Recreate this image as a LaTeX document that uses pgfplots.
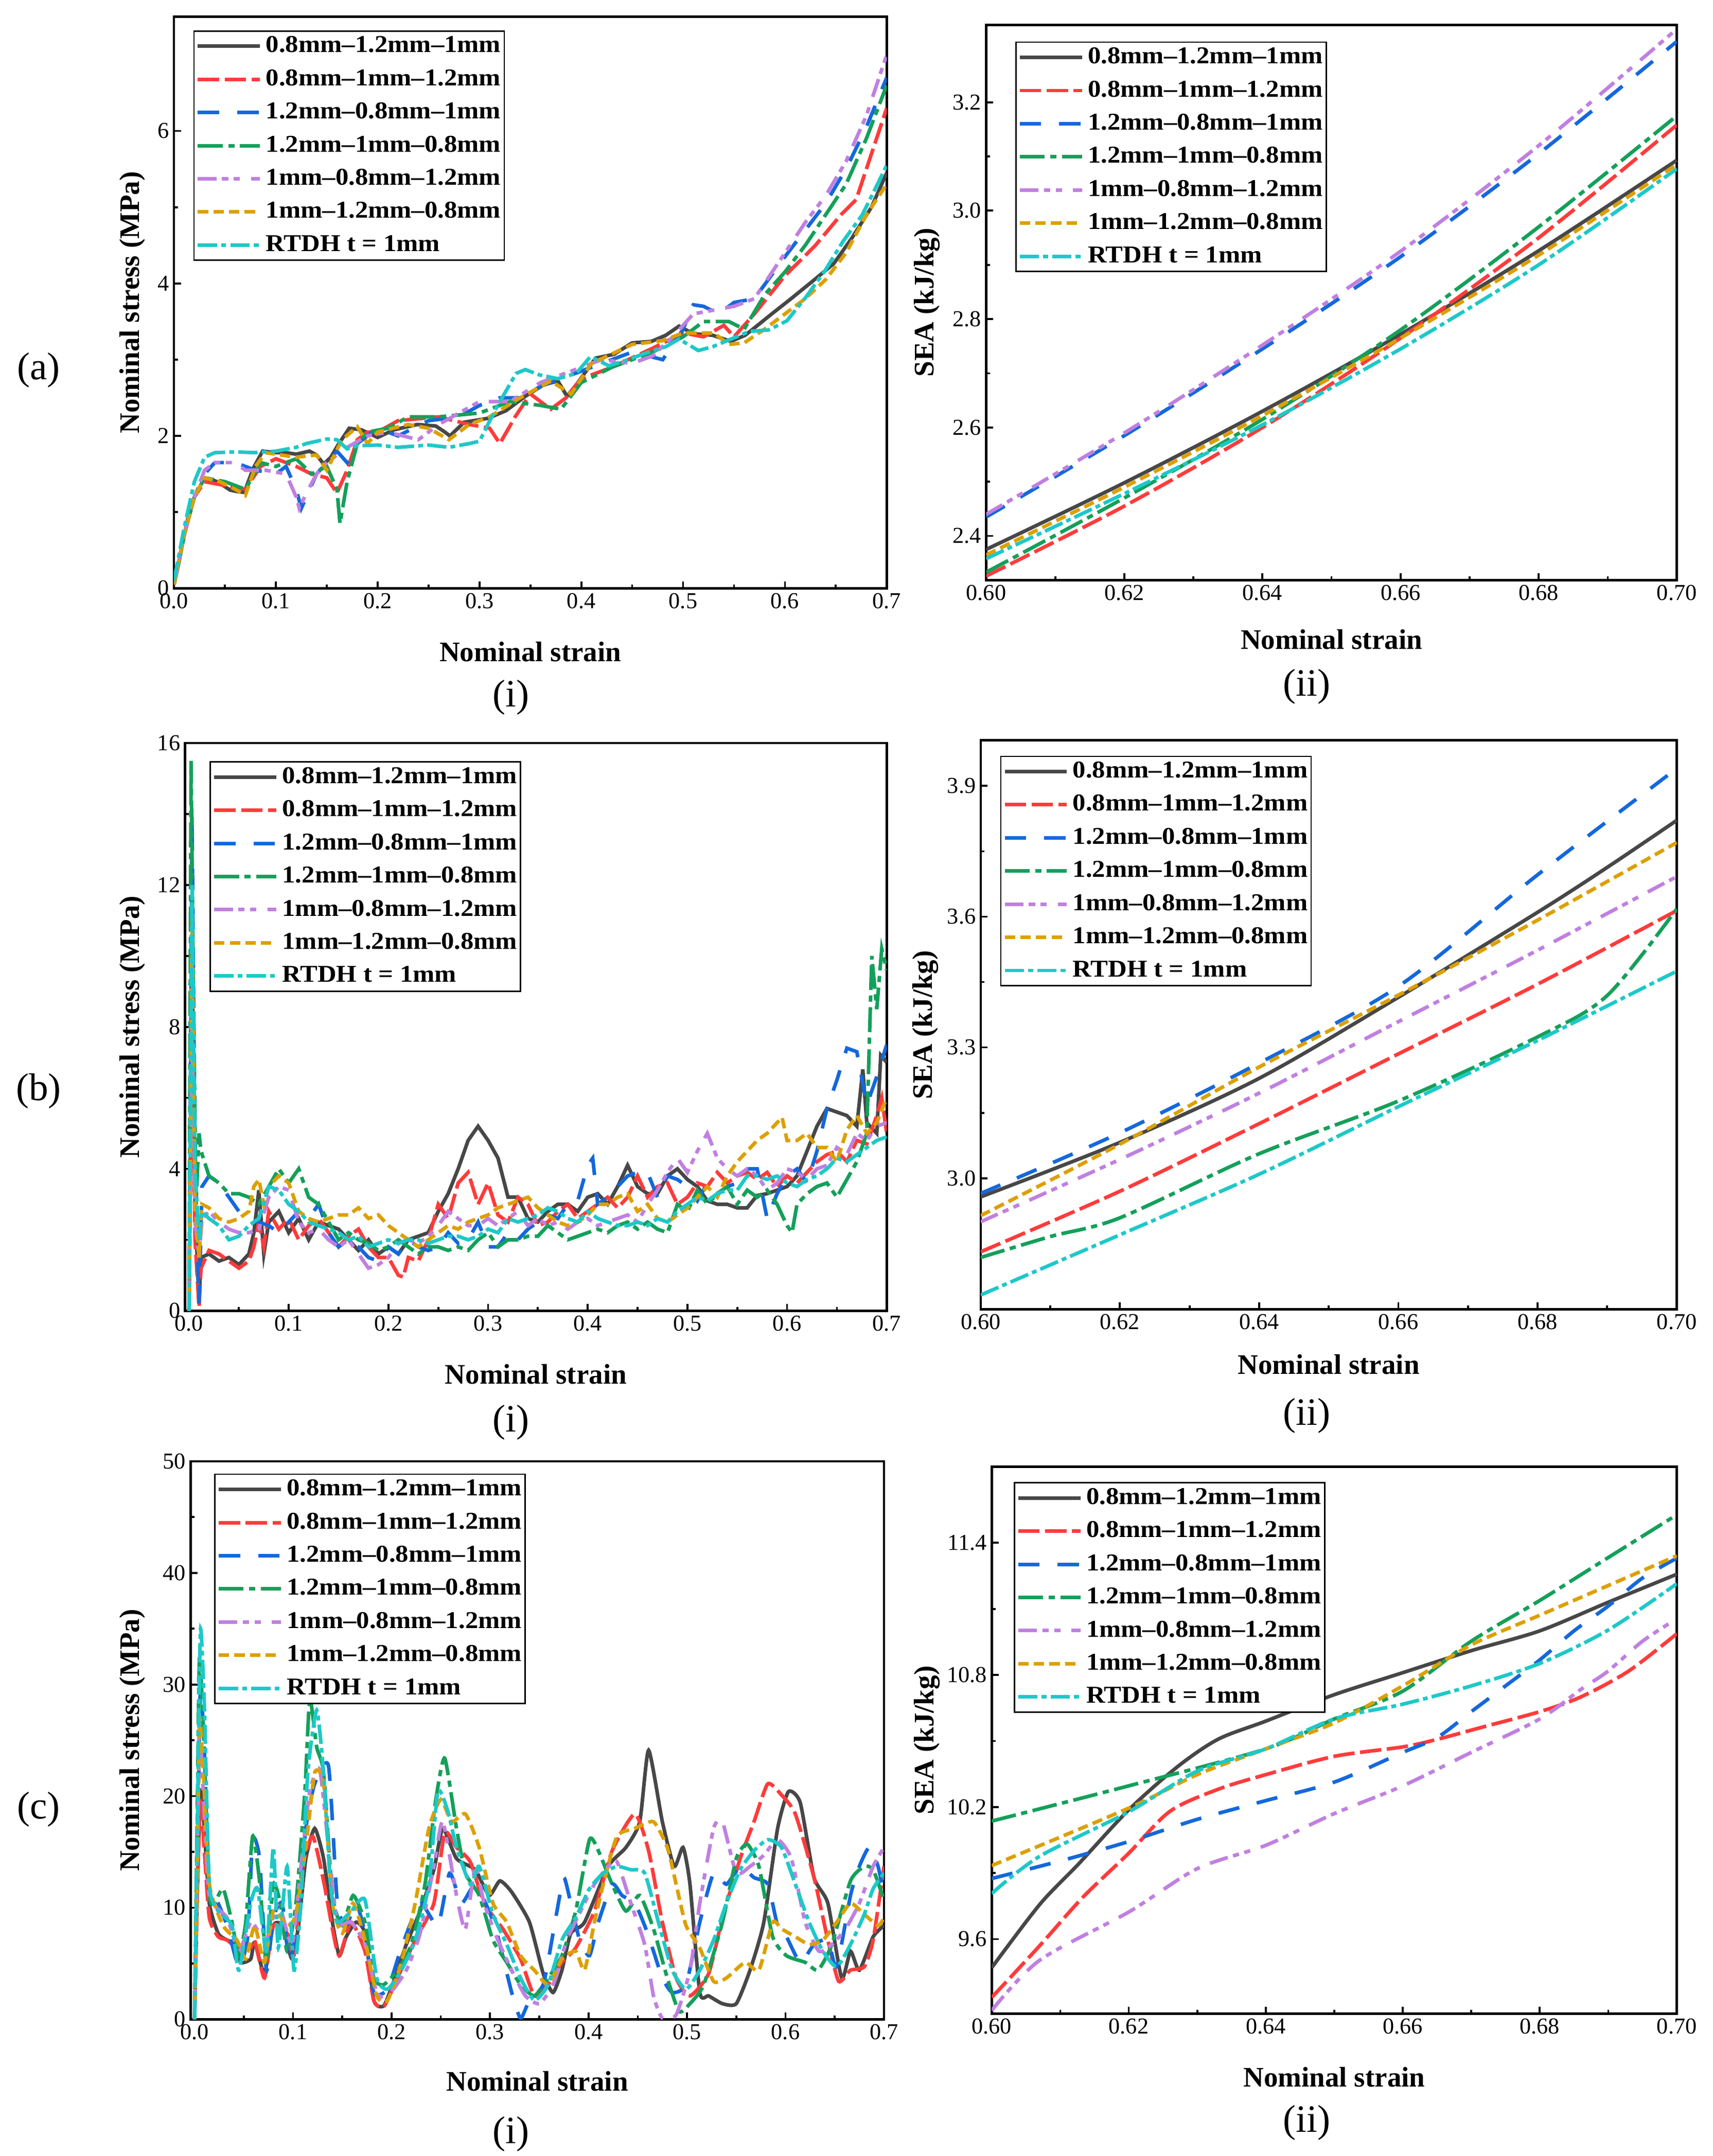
\documentclass[border=0pt]{standalone}
\usepackage{fontspec}
\setmainfont{Liberation Serif}
\newfontfamily\legfont{Liberation Serif}[Ligatures=TeX, FakeStretch=1.08]
\usepackage{pgfplots}
\pgfplotsset{compat=1.18}

\definecolor{cK}{HTML}{474747}
\definecolor{cR}{HTML}{FF3B3B}
\definecolor{cB}{HTML}{1468DC}
\definecolor{cG}{HTML}{14A05A}
\definecolor{cP}{HTML}{C080E0}
\definecolor{cO}{HTML}{DCA000}
\definecolor{cC}{HTML}{1EC8C8}

\tikzset{
  sK/.style={cK, solid, line width=2.6pt},
  sR/.style={cR, line width=2.6pt, dash pattern=on 15.5pt off 4pt},
  sB/.style={cB, line width=2.6pt, dash pattern=on 15.5pt off 13pt},
  sG/.style={cG, line width=2.6pt, dash pattern=on 18pt off 4pt on 4.5pt off 4pt},
  sP/.style={cP, line width=2.6pt, dash pattern=on 13.5pt off 4pt on 4.5pt off 4pt on 4.5pt off 8pt},
  sO/.style={cO, line width=2.6pt, dash pattern=on 7.5pt off 3.8pt},
  sC/.style={cC, line width=2.6pt, dash pattern=on 14pt off 3pt on 3.5pt off 3pt},
}

\pgfplotsset{
  panel/.style={
    scale only axis, anchor=south west,
    axis line style={line width=1.7pt},
    tick align=inside, tick pos=left,
    minor tick num=1,
    major tick length=5pt, minor tick length=2.8pt,
    every tick/.append style={line width=1.4pt, black},
    tick label style={font=\fontsize{16.5}{19}\selectfont},
    /pgf/number format/assume math mode=true,
    every axis x label/.style={anchor=center, font=\fontsize{20.5}{24}\selectfont\bfseries},
    every axis y label/.style={rotate=90, anchor=center, font=\fontsize{20.5}{24}\selectfont\bfseries},
    legend cell align=left,
    legend image code/.code={\draw[##1] (0pt,0pt) -- (45pt,0pt);},
    legend style={anchor=north west, draw=black, line width=1pt,
      font=\fontsize{17.5}{20}\legfont\bfseries,
      inner xsep=1.5pt, inner ysep=3pt, row sep=8pt, column sep=2pt,
      nodes={inner xsep=1pt, inner ysep=0pt, text height=12.5pt, text depth=3.5pt}},
  },
}
\newcommand{\LEG}{\legend{0.8mm--1.2mm--1mm, 0.8mm--1mm--1.2mm, 1.2mm--0.8mm--1mm, 1.2mm--1mm--0.8mm, 1mm--0.8mm--1.2mm, 1mm--1.2mm--0.8mm, RTDH t = 1mm}}

\begin{document}
\begin{tikzpicture}
\useasboundingbox (0pt,0pt) rectangle (1240pt,-1561pt);

% ---------------- (a)(i)
\begin{axis}[panel, at={(126pt,-426pt)}, width=516pt, height=414pt,
  xmin=0, xmax=0.7, ymin=0, ymax=7.5,
  xtick={0,0.1,0.2,0.3,0.4,0.5,0.6,0.7}, ytick={0,2,4,6},
  xticklabel style={/pgf/number format/.cd, fixed, fixed zerofill, precision=1},
  xlabel={Nominal strain}, ylabel={Nominal stress (MPa)},
  xlabel style={at={([yshift=-46pt]axis description cs:0.5,0)}},
  ylabel style={at={([xshift=-30pt]axis description cs:0,0.5)}},
  legend style={at={(axis description cs:0.027,0.976)}}]
\addplot[sK] coordinates {(0,0.05)(0.005,0.35)(0.01,0.7)(0.015,1.0)(0.02,1.2)(0.03,1.45)(0.037,1.43)(0.045,1.38)(0.055,1.29)(0.062,1.27)(0.069,1.26)(0.078,1.58)(0.087,1.8)(0.1,1.78)(0.11,1.78)(0.12,1.76)(0.133,1.8)(0.14,1.75)(0.147,1.63)(0.154,1.72)(0.161,1.88)(0.172,2.1)(0.184,2.08)(0.2,1.98)(0.216,2.08)(0.239,2.15)(0.257,2.13)(0.265,2.06)(0.271,2.0)(0.285,2.18)(0.308,2.23)(0.326,2.33)(0.345,2.52)(0.363,2.67)(0.377,2.72)(0.386,2.52)(0.395,2.67)(0.414,3.02)(0.432,3.07)(0.45,3.22)(0.469,3.24)(0.483,3.32)(0.496,3.44)(0.51,3.34)(0.529,3.32)(0.547,3.24)(0.561,3.32)(0.575,3.47)(0.588,3.61)(0.607,3.81)(0.63,4.06)(0.648,4.26)(0.666,4.6)(0.685,5.0)(0.7,5.45)};
\addplot[sR] coordinates {(0,0.05)(0.01,0.7)(0.02,1.2)(0.03,1.4)(0.05,1.35)(0.07,1.3)(0.085,1.6)(0.1,1.7)(0.12,1.6)(0.135,1.5)(0.15,1.45)(0.16,1.25)(0.17,1.55)(0.18,1.95)(0.19,2.05)(0.2,2.05)(0.22,2.2)(0.26,2.25)(0.29,2.15)(0.31,2.1)(0.32,1.9)(0.335,2.25)(0.35,2.55)(0.37,2.35)(0.385,2.5)(0.4,2.75)(0.43,2.9)(0.47,3.15)(0.5,3.35)(0.52,3.3)(0.54,3.45)(0.55,3.3)(0.57,3.6)(0.6,4.1)(0.63,4.5)(0.655,4.9)(0.67,5.1)(0.685,5.7)(0.7,6.3)};
\addplot[sB] coordinates {(0,0.05)(0.01,0.7)(0.02,1.2)(0.03,1.5)(0.04,1.65)(0.06,1.65)(0.08,1.55)(0.1,1.5)(0.11,1.6)(0.12,1.3)(0.125,1.05)(0.13,1.2)(0.14,1.5)(0.16,1.8)(0.17,1.65)(0.18,1.9)(0.2,2.1)(0.22,2.0)(0.25,2.2)(0.28,2.25)(0.3,2.4)(0.32,2.5)(0.34,2.5)(0.36,2.65)(0.39,2.8)(0.42,2.95)(0.45,3.1)(0.48,3.0)(0.5,3.4)(0.51,3.72)(0.52,3.7)(0.535,3.6)(0.55,3.75)(0.57,3.8)(0.6,4.35)(0.62,4.7)(0.64,5.05)(0.66,5.5)(0.68,6.05)(0.7,6.7)};
\addplot[sG] coordinates {(0,0.05)(0.01,0.7)(0.02,1.2)(0.03,1.45)(0.05,1.4)(0.07,1.3)(0.085,1.65)(0.1,1.6)(0.12,1.7)(0.135,1.5)(0.15,1.6)(0.16,1.3)(0.163,0.85)(0.17,1.4)(0.18,1.9)(0.19,2.05)(0.21,2.1)(0.23,2.25)(0.26,2.25)(0.3,2.3)(0.33,2.45)(0.36,2.4)(0.38,2.35)(0.4,2.7)(0.43,2.9)(0.47,3.1)(0.5,3.3)(0.52,3.5)(0.545,3.5)(0.56,3.4)(0.58,3.85)(0.6,4.15)(0.62,4.5)(0.64,4.9)(0.66,5.3)(0.68,5.9)(0.7,6.6)};
\addplot[sP] coordinates {(0,0.05)(0.01,0.7)(0.02,1.2)(0.03,1.55)(0.04,1.65)(0.06,1.65)(0.07,1.55)(0.09,1.55)(0.11,1.5)(0.12,1.2)(0.123,1.05)(0.13,1.25)(0.14,1.5)(0.15,1.65)(0.17,1.85)(0.19,2.0)(0.21,2.05)(0.24,1.95)(0.26,2.15)(0.28,2.3)(0.3,2.45)(0.33,2.45)(0.36,2.7)(0.39,2.85)(0.42,3.0)(0.45,2.95)(0.47,3.05)(0.49,3.3)(0.51,3.6)(0.53,3.65)(0.55,3.7)(0.57,3.8)(0.6,4.4)(0.62,4.8)(0.64,5.15)(0.66,5.6)(0.68,6.2)(0.7,7.0)};
\addplot[sO] coordinates {(0,0.05)(0.01,0.7)(0.02,1.2)(0.03,1.45)(0.045,1.4)(0.06,1.3)(0.07,1.22)(0.08,1.6)(0.09,1.78)(0.12,1.72)(0.14,1.75)(0.15,1.55)(0.165,1.95)(0.18,2.12)(0.19,1.9)(0.2,2.05)(0.23,2.15)(0.25,2.1)(0.27,1.95)(0.29,2.15)(0.31,2.25)(0.34,2.5)(0.37,2.72)(0.39,2.55)(0.41,2.95)(0.45,3.2)(0.48,3.25)(0.5,3.35)(0.53,3.35)(0.545,3.2)(0.56,3.22)(0.58,3.4)(0.6,3.6)(0.62,3.8)(0.64,4.05)(0.66,4.4)(0.68,4.9)(0.7,5.3)};
\addplot[sC] coordinates {(0,0.1)(0.01,0.8)(0.02,1.4)(0.03,1.72)(0.04,1.78)(0.06,1.79)(0.08,1.78)(0.1,1.8)(0.12,1.85)(0.13,1.9)(0.15,1.96)(0.16,1.95)(0.17,1.83)(0.18,1.87)(0.2,1.88)(0.22,1.85)(0.25,1.88)(0.27,1.85)(0.29,1.9)(0.3,1.93)(0.317,2.38)(0.336,2.82)(0.345,2.87)(0.359,2.8)(0.377,2.75)(0.395,2.82)(0.409,3.04)(0.427,2.92)(0.446,3.0)(0.464,3.09)(0.483,3.17)(0.496,3.27)(0.515,3.12)(0.529,3.17)(0.547,3.27)(0.565,3.37)(0.584,3.39)(0.602,3.51)(0.62,3.81)(0.639,4.16)(0.657,4.55)(0.676,4.9)(0.689,5.25)(0.7,5.55)};
\LEG
\end{axis}

% ---------------- (a)(ii)
\begin{axis}[panel, at={(714pt,-420pt)}, width=500pt, height=402pt,
  xmin=0.6, xmax=0.7, ymin=2.3185, ymax=3.3427,
  xtick={0.6,0.62,0.64,0.66,0.68,0.7}, ytick={2.4,2.6,2.8,3.0,3.2},
  xticklabel style={/pgf/number format/.cd, fixed, fixed zerofill, precision=2},
  yticklabel style={/pgf/number format/.cd, fixed, fixed zerofill, precision=1},
  xlabel={Nominal strain}, ylabel={SEA (kJ/kg)},
  xlabel style={at={([yshift=-43pt]axis description cs:0.5,0)}},
  ylabel style={at={([xshift=-43pt]axis description cs:0,0.5)}},
  legend style={at={(axis description cs:0.042,0.970)}}]
\addplot[sK, smooth] coordinates {(0.6,2.375)(0.62,2.498)(0.64,2.63)(0.66,2.772)(0.68,2.926)(0.7,3.093)};
\addplot[sR, smooth] coordinates {(0.6,2.326)(0.62,2.455)(0.64,2.6)(0.66,2.765)(0.68,2.95)(0.7,3.158)};
\addplot[sB, smooth] coordinates {(0.6,2.435)(0.62,2.585)(0.64,2.745)(0.66,2.915)(0.68,3.105)(0.7,3.312)};
\addplot[sG, smooth] coordinates {(0.6,2.333)(0.62,2.47)(0.64,2.615)(0.66,2.78)(0.68,2.97)(0.7,3.175)};
\addplot[sP, smooth] coordinates {(0.6,2.44)(0.62,2.59)(0.64,2.752)(0.66,2.925)(0.68,3.12)(0.7,3.335)};
\addplot[sO, smooth] coordinates {(0.6,2.365)(0.62,2.49)(0.64,2.622)(0.66,2.765)(0.68,2.918)(0.7,3.085)};
\addplot[sC, smooth] coordinates {(0.6,2.358)(0.62,2.478)(0.64,2.605)(0.66,2.745)(0.68,2.9)(0.7,3.077)};
\LEG
\end{axis}

% ---------------- (b)(i)
\begin{axis}[panel, at={(134pt,-949pt)}, width=508pt, height=411pt,
  xmin=-0.004, xmax=0.7, ymin=0, ymax=16,
  xtick={0,0.1,0.2,0.3,0.4,0.5,0.6,0.7}, ytick={0,4,8,12,16},
  xticklabel style={/pgf/number format/.cd, fixed, fixed zerofill, precision=1},
  xlabel={Nominal strain}, ylabel={Nominal stress (MPa)},
  xlabel style={at={([yshift=-46pt]axis description cs:0.5,0)}},
  ylabel style={at={([xshift=-38pt]axis description cs:0,0.5)}},
  legend style={at={(axis description cs:0.035,0.968)}}]
\addplot[sK] coordinates {(0,0)(0.003,10)(0.006,3)(0.01,0.2)(0.012,1.5)(0.02,1.6)(0.03,1.4)(0.04,1.5)(0.05,1.3)(0.06,1.6)(0.065,2.2)(0.07,3.4)(0.075,1.6)(0.08,2.5)(0.09,2.8)(0.1,2.2)(0.11,2.6)(0.12,2.0)(0.13,2.5)(0.14,2.4)(0.15,2.3)(0.16,2.0)(0.17,1.7)(0.18,2.0)(0.19,1.6)(0.2,1.8)(0.21,1.6)(0.22,2.0)(0.23,2.1)(0.24,2.2)(0.25,2.8)(0.26,3.3)(0.27,4.0)(0.28,4.8)(0.29,5.2)(0.3,4.8)(0.31,4.3)(0.32,3.2)(0.33,3.2)(0.34,2.6)(0.35,2.5)(0.36,2.8)(0.37,3.0)(0.38,3.0)(0.39,2.8)(0.4,3.2)(0.41,3.3)(0.42,3.0)(0.43,3.5)(0.44,4.1)(0.45,3.5)(0.46,3.3)(0.47,3.3)(0.48,3.8)(0.49,4.0)(0.5,3.7)(0.51,3.5)(0.52,3.1)(0.53,3.0)(0.54,3.0)(0.55,2.9)(0.56,2.9)(0.57,3.25)(0.58,3.3)(0.59,3.4)(0.6,3.5)(0.61,3.8)(0.62,4.5)(0.63,5.2)(0.64,5.7)(0.65,5.6)(0.66,5.5)(0.67,5.2)(0.676,6.8)(0.68,5.3)(0.69,5.0)(0.694,7.2)(0.7,7.0)};
\addplot[sR] coordinates {(0,0)(0.003,8)(0.006,2)(0.01,0.1)(0.012,1.2)(0.02,1.7)(0.03,1.6)(0.04,1.4)(0.05,1.2)(0.06,1.4)(0.065,1.8)(0.07,2.5)(0.075,1.8)(0.08,2.8)(0.09,2.3)(0.1,2.6)(0.11,2.0)(0.12,2.4)(0.13,2.6)(0.14,2.2)(0.15,1.8)(0.16,2.1)(0.17,2.3)(0.18,1.8)(0.19,1.5)(0.2,1.5)(0.21,1.0)(0.215,0.95)(0.22,1.5)(0.23,1.4)(0.24,2.0)(0.25,3.0)(0.26,2.6)(0.27,3.6)(0.28,3.9)(0.29,3.0)(0.3,3.6)(0.31,2.7)(0.32,2.5)(0.33,3.2)(0.34,3.0)(0.35,2.4)(0.36,2.5)(0.37,2.8)(0.38,3.0)(0.39,2.6)(0.4,2.8)(0.41,3.0)(0.42,3.2)(0.43,2.9)(0.44,3.2)(0.45,3.8)(0.46,3.2)(0.47,3.5)(0.48,3.6)(0.49,3.0)(0.5,3.2)(0.51,3.6)(0.52,3.5)(0.53,3.9)(0.54,3.6)(0.55,3.8)(0.56,3.9)(0.57,3.7)(0.58,3.9)(0.59,3.5)(0.6,3.8)(0.61,3.6)(0.62,3.9)(0.63,4.2)(0.64,4.4)(0.65,4.5)(0.66,4.2)(0.67,4.8)(0.68,4.7)(0.69,5.5)(0.695,6.0)(0.7,5.0)};
\addplot[sB] coordinates {(0,0)(0.003,14)(0.006,4)(0.01,0.2)(0.013,3.5)(0.02,3.8)(0.03,3.6)(0.04,3.2)(0.05,2.8)(0.06,2.7)(0.07,2.5)(0.08,2.4)(0.09,2.2)(0.1,2.5)(0.11,2.8)(0.12,2.6)(0.13,3.0)(0.14,2.2)(0.15,1.8)(0.16,2.0)(0.17,1.8)(0.18,1.5)(0.19,1.4)(0.2,1.8)(0.21,1.6)(0.22,2.0)(0.23,1.8)(0.24,1.7)(0.25,1.8)(0.26,2.2)(0.27,1.9)(0.28,2.0)(0.29,2.5)(0.3,1.8)(0.31,1.8)(0.32,2.2)(0.33,2.0)(0.34,2.3)(0.35,2.5)(0.36,2.7)(0.37,2.6)(0.38,3.0)(0.39,3.1)(0.4,4.1)(0.405,4.3)(0.41,3.0)(0.42,3.2)(0.43,3.5)(0.44,3.8)(0.45,3.9)(0.46,3.9)(0.47,3.2)(0.48,3.8)(0.49,3.7)(0.5,3.5)(0.51,3.1)(0.52,3.6)(0.53,3.3)(0.54,3.5)(0.55,3.6)(0.56,4.0)(0.57,4.0)(0.58,2.6)(0.59,3.3)(0.6,3.8)(0.61,4.0)(0.62,3.6)(0.63,4.5)(0.64,5.7)(0.65,6.5)(0.66,7.4)(0.67,7.3)(0.68,5.8)(0.69,6.6)(0.7,7.5)};
\addplot[sG] coordinates {(0,0)(0.002,15.5)(0.004,10)(0.007,3)(0.01,5)(0.012,4.5)(0.02,3.8)(0.03,3.6)(0.04,3.3)(0.05,3.3)(0.06,3.2)(0.07,3.0)(0.08,3.5)(0.09,4.0)(0.1,3.6)(0.11,4.0)(0.12,3.2)(0.13,3.0)(0.14,2.5)(0.15,2.0)(0.16,2.2)(0.17,2.0)(0.18,1.9)(0.19,1.7)(0.2,1.8)(0.21,2.0)(0.22,1.8)(0.23,1.6)(0.24,1.8)(0.25,1.8)(0.26,1.7)(0.27,1.8)(0.28,1.7)(0.29,2.0)(0.3,2.2)(0.31,1.8)(0.32,2.0)(0.33,2.0)(0.34,2.1)(0.35,2.1)(0.36,2.4)(0.37,2.2)(0.38,2.0)(0.39,2.1)(0.4,2.2)(0.41,2.3)(0.42,2.2)(0.43,2.4)(0.44,2.5)(0.45,2.3)(0.46,2.5)(0.47,2.3)(0.48,2.2)(0.49,3.0)(0.5,2.8)(0.51,3.4)(0.52,3.0)(0.53,3.3)(0.54,3.5)(0.55,3.0)(0.56,3.4)(0.57,3.2)(0.58,3.4)(0.59,3.0)(0.6,2.4)(0.605,2.2)(0.61,3.0)(0.62,3.3)(0.63,3.5)(0.64,3.6)(0.65,3.2)(0.66,3.7)(0.67,4.2)(0.68,5.0)(0.685,10.0)(0.69,8.5)(0.695,10.2)(0.7,9.6)};
\addplot[sP] coordinates {(0,0)(0.003,8)(0.006,2.5)(0.01,1.5)(0.013,2.6)(0.02,2.8)(0.03,2.5)(0.04,2.3)(0.05,2.2)(0.06,2.2)(0.07,2.3)(0.08,3.2)(0.09,3.5)(0.1,3.4)(0.11,2.5)(0.12,2.2)(0.13,2.3)(0.14,2.0)(0.15,1.8)(0.16,2.0)(0.17,1.6)(0.18,1.2)(0.19,1.3)(0.2,1.5)(0.21,1.9)(0.22,2.0)(0.23,1.9)(0.24,2.1)(0.25,2.4)(0.26,2.8)(0.27,2.6)(0.28,2.4)(0.29,2.4)(0.3,2.6)(0.31,2.4)(0.32,2.6)(0.33,2.8)(0.34,2.4)(0.35,2.6)(0.36,2.4)(0.37,2.5)(0.38,2.3)(0.39,2.5)(0.4,2.6)(0.41,2.4)(0.42,2.5)(0.43,2.6)(0.44,2.7)(0.45,2.5)(0.46,3.0)(0.47,3.4)(0.48,3.9)(0.49,4.3)(0.5,3.9)(0.51,4.5)(0.52,5.0)(0.53,4.3)(0.54,4.0)(0.55,3.8)(0.56,4.0)(0.57,3.8)(0.58,3.4)(0.59,3.6)(0.6,4.0)(0.61,3.9)(0.62,3.7)(0.63,4.0)(0.64,4.1)(0.65,4.6)(0.66,4.4)(0.67,5.0)(0.68,4.8)(0.69,5.2)(0.7,5.3)};
\addplot[sO] coordinates {(0,0)(0.003,11)(0.006,3)(0.01,1.5)(0.013,3.0)(0.02,2.9)(0.03,2.6)(0.04,2.5)(0.05,2.6)(0.06,2.8)(0.065,3.5)(0.07,3.7)(0.075,3.0)(0.08,3.5)(0.09,3.8)(0.1,3.6)(0.11,2.8)(0.12,2.6)(0.13,2.5)(0.14,2.6)(0.15,2.7)(0.16,2.7)(0.17,2.9)(0.18,2.6)(0.19,2.7)(0.2,2.4)(0.21,2.2)(0.22,2.0)(0.23,1.8)(0.24,2.0)(0.25,2.2)(0.26,2.4)(0.27,2.3)(0.28,2.5)(0.29,2.6)(0.3,2.7)(0.31,2.9)(0.32,3.0)(0.33,3.1)(0.34,3.2)(0.35,2.9)(0.36,2.7)(0.37,2.5)(0.38,2.4)(0.39,2.5)(0.4,2.7)(0.41,3.0)(0.42,3.0)(0.43,3.2)(0.44,3.3)(0.45,2.8)(0.46,3.0)(0.47,2.6)(0.48,2.5)(0.49,2.7)(0.5,2.9)(0.51,3.2)(0.52,3.5)(0.53,3.2)(0.54,3.8)(0.55,4.2)(0.56,4.5)(0.57,4.8)(0.58,5.0)(0.595,5.45)(0.6,4.8)(0.61,4.8)(0.62,5.0)(0.63,4.6)(0.64,4.6)(0.65,4.2)(0.66,5.1)(0.67,5.5)(0.68,5.0)(0.69,5.3)(0.7,6.0)};
\addplot[sC] coordinates {(0,0)(0.003,12)(0.006,4)(0.01,2.0)(0.013,2.8)(0.02,2.6)(0.03,2.4)(0.04,2.0)(0.05,2.1)(0.06,2.4)(0.07,2.6)(0.08,3.5)(0.09,3.4)(0.1,3.0)(0.11,2.8)(0.12,2.5)(0.13,2.4)(0.14,2.3)(0.15,2.2)(0.16,2.0)(0.17,2.1)(0.18,1.8)(0.19,1.9)(0.2,2.0)(0.21,1.9)(0.22,2.0)(0.23,2.0)(0.24,1.9)(0.25,2.0)(0.26,2.1)(0.27,2.1)(0.28,2.0)(0.29,2.1)(0.3,2.3)(0.31,2.2)(0.32,2.6)(0.33,2.5)(0.34,2.6)(0.35,2.7)(0.36,2.9)(0.37,2.8)(0.38,2.6)(0.39,2.5)(0.4,2.8)(0.41,2.6)(0.42,2.5)(0.43,2.4)(0.44,2.4)(0.45,2.5)(0.46,2.4)(0.47,2.6)(0.48,2.5)(0.49,2.8)(0.5,3.0)(0.51,3.2)(0.52,3.1)(0.53,3.3)(0.54,3.4)(0.55,3.4)(0.56,3.8)(0.57,3.8)(0.58,3.7)(0.59,3.8)(0.6,3.6)(0.61,3.5)(0.62,3.7)(0.63,3.8)(0.64,4.0)(0.65,4.3)(0.66,4.2)(0.67,4.4)(0.68,4.6)(0.69,4.8)(0.7,4.9)};
\LEG
\end{axis}

% ---------------- (b)(ii)
\begin{axis}[panel, at={(710pt,-948pt)}, width=504pt, height=412pt,
  xmin=0.6, xmax=0.7, ymin=2.699, ymax=4.0046,
  xtick={0.6,0.62,0.64,0.66,0.68,0.7}, ytick={3.0,3.3,3.6,3.9},
  xticklabel style={/pgf/number format/.cd, fixed, fixed zerofill, precision=2},
  yticklabel style={/pgf/number format/.cd, fixed, fixed zerofill, precision=1},
  xlabel={Nominal strain}, ylabel={SEA (kJ/kg)},
  xlabel style={at={([yshift=-40pt]axis description cs:0.5,0)}},
  ylabel style={at={([xshift=-40pt]axis description cs:0,0.5)}},
  legend style={at={(axis description cs:0.028,0.973)}}]
\addplot[sK, smooth] coordinates {(0.6,2.957)(0.62,3.082)(0.64,3.229)(0.66,3.415)(0.68,3.61)(0.69,3.713)(0.7,3.821)};
\addplot[sR, smooth] coordinates {(0.6,2.831)(0.62,2.97)(0.64,3.125)(0.66,3.285)(0.68,3.445)(0.7,3.614)};
\addplot[sB, smooth] coordinates {(0.6,2.965)(0.62,3.104)(0.64,3.264)(0.66,3.44)(0.68,3.696)(0.7,3.94)};
\addplot[sG, smooth] coordinates {(0.6,2.818)(0.61,2.866)(0.62,2.909)(0.64,3.056)(0.66,3.177)(0.68,3.324)(0.69,3.419)(0.7,3.618)};
\addplot[sP, smooth] coordinates {(0.6,2.9)(0.62,3.043)(0.64,3.195)(0.66,3.359)(0.68,3.523)(0.7,3.692)};
\addplot[sO, smooth] coordinates {(0.6,2.914)(0.62,3.078)(0.64,3.255)(0.66,3.42)(0.68,3.592)(0.7,3.77)};
\addplot[sC, smooth] coordinates {(0.6,2.732)(0.62,2.87)(0.64,3.009)(0.66,3.164)(0.68,3.316)(0.7,3.475)};
\LEG
\end{axis}

% ---------------- (c)(i)
\begin{axis}[panel, at={(138pt,-1462pt)}, width=502pt, height=404pt,
  xmin=-0.004, xmax=0.7, ymin=0, ymax=50,
  xtick={0,0.1,0.2,0.3,0.4,0.5,0.6,0.7}, ytick={0,10,20,30,40,50},
  xticklabel style={/pgf/number format/.cd, fixed, fixed zerofill, precision=1},
  xlabel={Nominal strain}, ylabel={Nominal stress (MPa)},
  xlabel style={at={([yshift=-45pt]axis description cs:0.5,0)}},
  ylabel style={at={([xshift=-42pt]axis description cs:0,0.5)}},
  legend style={at={(axis description cs:0.034,0.978)}}]
\addplot[sK, smooth, tension=0.35] coordinates {(0,0)(0.003,12)(0.006,20.4)(0.01,17)(0.015,10.4)(0.024,7.7)(0.033,7.1)(0.043,6.7)(0.047,5.1)(0.057,5.4)(0.061,6.9)(0.071,4.1)(0.08,8.4)(0.089,8.4)(0.099,5.4)(0.106,8.7)(0.113,14.4)(0.122,17.1)(0.131,14.4)(0.14,8.7)(0.147,5.7)(0.154,7.4)(0.164,8.7)(0.173,7.7)(0.182,1.7)(0.192,1.2)(0.201,3.1)(0.215,6.7)(0.229,9.7)(0.243,13.4)(0.252,17.1)(0.266,14.4)(0.285,13.4)(0.299,11.1)(0.31,12.4)(0.322,11.4)(0.34,8.7)(0.354,4.1)(0.364,2.4)(0.373,4.4)(0.382,7.7)(0.396,8.7)(0.42,13.7)(0.438,15.4)(0.452,17.7)(0.461,24.1)(0.475,17.7)(0.487,13.7)(0.496,15.4)(0.503,12.1)(0.513,2.4)(0.522,2.1)(0.536,1.4)(0.55,1.4)(0.564,4.4)(0.578,8.7)(0.592,17.1)(0.603,20.4)(0.615,19.4)(0.629,12.7)(0.643,10.4)(0.657,3.7)(0.666,6.1)(0.675,4.4)(0.689,7.4)(0.7,8.4)};
\addplot[sR, smooth, tension=0.35] coordinates {(0,0)(0.003,12)(0.006,19.5)(0.01,15)(0.015,9.1)(0.024,7.4)(0.033,7.1)(0.047,6.1)(0.057,6.4)(0.061,7.1)(0.071,3.7)(0.08,8.4)(0.094,7.7)(0.101,5.7)(0.11,13.7)(0.12,16.4)(0.131,12.4)(0.14,8.1)(0.147,5.7)(0.159,8.7)(0.173,6.1)(0.182,1.7)(0.192,1.1)(0.206,3.7)(0.224,7.1)(0.243,10.4)(0.254,16.7)(0.266,15.4)(0.28,14.1)(0.294,10.4)(0.313,8.1)(0.331,5.4)(0.345,2.1)(0.359,3.1)(0.373,5.1)(0.387,6.4)(0.406,9.7)(0.424,15.1)(0.447,18.4)(0.461,15.1)(0.475,8.7)(0.489,3.7)(0.503,2.1)(0.522,4.1)(0.536,9.1)(0.554,14.4)(0.568,17.7)(0.582,21.1)(0.596,20.1)(0.61,18.4)(0.629,12.7)(0.643,7.1)(0.654,3.4)(0.666,4.4)(0.68,4.7)(0.689,7.1)(0.7,13.7)};
\addplot[sB, smooth, tension=0.35] coordinates {(0,0)(0.003,15)(0.006,29.7)(0.01,24)(0.015,12.1)(0.024,10.4)(0.033,8.4)(0.045,4.7)(0.054,7.4)(0.059,16.1)(0.066,14.4)(0.073,4.4)(0.08,9.1)(0.089,10.4)(0.096,5.1)(0.103,8.1)(0.113,17.1)(0.122,21.1)(0.136,22.7)(0.145,10.4)(0.154,8.4)(0.164,10.4)(0.173,7.7)(0.182,2.4)(0.196,2.7)(0.21,6.4)(0.229,10.4)(0.247,8.4)(0.259,13.1)(0.271,10.4)(0.285,12.1)(0.299,9.7)(0.308,7.4)(0.322,2.4)(0.331,0.1)(0.34,1.7)(0.354,3.1)(0.364,7.7)(0.368,9.7)(0.375,12.7)(0.382,10.4)(0.391,7.1)(0.401,5.7)(0.41,8.7)(0.424,12.1)(0.434,11.1)(0.447,10.4)(0.457,8.4)(0.466,6.1)(0.475,3.7)(0.485,2.4)(0.499,3.1)(0.513,8.7)(0.527,13.1)(0.54,12.1)(0.554,13.7)(0.568,12.7)(0.582,12.1)(0.592,8.4)(0.601,7.4)(0.615,5.1)(0.629,6.7)(0.643,7.1)(0.652,4.7)(0.666,11.1)(0.675,13.7)(0.685,15.4)(0.694,13.7)(0.7,11.1)};
\addplot[sG, smooth, tension=0.35] coordinates {(0,0)(0.003,20)(0.005,32.4)(0.009,26)(0.015,11.4)(0.02,10.4)(0.029,11.7)(0.038,8.7)(0.045,5.7)(0.052,8.7)(0.059,16.4)(0.066,12.4)(0.073,5.4)(0.08,12.1)(0.087,10.4)(0.094,6.1)(0.103,10.4)(0.112,20.4)(0.117,28.7)(0.124,24.4)(0.131,22.1)(0.14,11.1)(0.15,8.4)(0.161,11.1)(0.173,8.7)(0.182,3.7)(0.192,3.1)(0.206,4.4)(0.22,6.7)(0.234,12.1)(0.245,19.7)(0.254,23.4)(0.266,17.1)(0.275,13.1)(0.289,11.1)(0.303,7.1)(0.317,5.1)(0.331,3.1)(0.345,2.1)(0.359,3.7)(0.373,5.7)(0.387,9.7)(0.401,16.1)(0.41,15.1)(0.424,12.1)(0.438,9.7)(0.452,11.1)(0.466,8.1)(0.48,3.7)(0.492,0.7)(0.503,1.4)(0.517,3.1)(0.536,8.7)(0.55,14.4)(0.561,15.7)(0.573,13.7)(0.587,7.4)(0.601,5.7)(0.62,5.1)(0.633,4.4)(0.647,6.7)(0.666,12.4)(0.68,13.7)(0.689,13.4)(0.7,10.7)};
\addplot[sP, smooth, tension=0.35] coordinates {(0,0)(0.003,14)(0.005,26.4)(0.009,20)(0.015,11.1)(0.033,9.1)(0.045,6.1)(0.057,8.7)(0.066,7.7)(0.073,7.1)(0.085,10.4)(0.099,6.7)(0.108,13.7)(0.117,20.4)(0.127,22.4)(0.136,15.4)(0.145,8.7)(0.159,8.7)(0.173,6.7)(0.185,2.4)(0.196,2.1)(0.215,4.4)(0.229,7.7)(0.243,13.7)(0.252,17.7)(0.266,11.1)(0.275,8.1)(0.285,13.7)(0.294,10.4)(0.308,7.1)(0.322,4.4)(0.336,2.1)(0.35,1.4)(0.364,3.1)(0.378,7.1)(0.392,9.7)(0.406,12.1)(0.42,13.7)(0.429,14.1)(0.443,10.4)(0.457,6.7)(0.466,2.1)(0.475,0.1)(0.489,0.4)(0.503,4.4)(0.513,10.4)(0.527,17.1)(0.536,17.7)(0.55,13.1)(0.564,13.7)(0.578,14.7)(0.592,16.1)(0.606,14.4)(0.62,8.7)(0.634,6.1)(0.647,6.7)(0.661,8.1)(0.675,10.4)(0.689,13.7)(0.7,15.4)};
\addplot[sO, smooth, tension=0.35] coordinates {(0,0)(0.003,14)(0.005,27)(0.009,22)(0.015,12.1)(0.029,8.4)(0.043,7.1)(0.052,5.4)(0.061,8.4)(0.071,5.1)(0.08,9.7)(0.094,8.4)(0.103,9.4)(0.113,15.4)(0.122,22.1)(0.131,21.1)(0.14,10.4)(0.15,7.7)(0.161,10.4)(0.173,7.1)(0.185,2.1)(0.196,1.7)(0.21,5.1)(0.224,10.4)(0.238,17.1)(0.25,19.7)(0.261,17.7)(0.275,18.4)(0.289,15.4)(0.303,10.4)(0.317,8.7)(0.331,5.7)(0.345,4.4)(0.359,3.1)(0.373,5.4)(0.387,6.1)(0.396,4.4)(0.406,8.7)(0.415,12.1)(0.429,16.4)(0.447,17.1)(0.466,17.7)(0.48,15.4)(0.489,12.1)(0.499,8.4)(0.513,6.4)(0.527,3.4)(0.54,3.7)(0.559,5.1)(0.573,4.4)(0.587,8.7)(0.596,8.1)(0.61,7.4)(0.624,6.7)(0.638,7.1)(0.652,8.7)(0.666,10.4)(0.68,9.4)(0.694,8.4)(0.7,9.1)};
\addplot[sC, smooth, tension=0.35] coordinates {(0,0)(0.003,18)(0.006,34.9)(0.01,28)(0.015,12.1)(0.024,9.7)(0.038,8.4)(0.045,4.4)(0.057,10.4)(0.064,11.7)(0.073,6.1)(0.08,15.4)(0.085,6.4)(0.094,13.7)(0.101,4.4)(0.108,10.4)(0.115,22.1)(0.124,27.7)(0.131,22.1)(0.138,12.1)(0.145,8.7)(0.159,9.7)(0.173,10.7)(0.185,3.7)(0.196,2.7)(0.21,4.4)(0.224,7.1)(0.238,12.1)(0.247,20.4)(0.257,18.7)(0.266,15.4)(0.28,12.1)(0.289,13.7)(0.303,9.4)(0.317,6.7)(0.331,3.7)(0.345,1.7)(0.359,3.1)(0.373,7.1)(0.387,9.1)(0.401,11.7)(0.415,13.1)(0.429,13.7)(0.443,13.4)(0.457,13.1)(0.471,8.7)(0.485,4.4)(0.499,2.7)(0.513,4.4)(0.527,7.1)(0.54,10.4)(0.554,13.4)(0.568,15.1)(0.582,16.1)(0.596,15.4)(0.61,12.1)(0.624,8.7)(0.638,6.1)(0.652,4.7)(0.666,6.7)(0.68,9.4)(0.689,11.7)(0.7,13.1)};
\LEG
\end{axis}

% ---------------- (c)(ii)
\begin{axis}[panel, at={(718pt,-1458pt)}, width=496pt, height=396pt,
  xmin=0.6, xmax=0.7, ymin=9.261, ymax=11.745,
  xtick={0.6,0.62,0.64,0.66,0.68,0.7}, ytick={9.6,10.2,10.8,11.4},
  xticklabel style={/pgf/number format/.cd, fixed, fixed zerofill, precision=2},
  yticklabel style={/pgf/number format/.cd, fixed, fixed zerofill, precision=1},
  xlabel={Nominal strain}, ylabel={SEA (kJ/kg)},
  xlabel style={at={([yshift=-46pt]axis description cs:0.5,0)}},
  ylabel style={at={([xshift=-47pt]axis description cs:0,0.5)}},
  legend style={at={(axis description cs:0.032,0.972)}}]
\addplot[sK, smooth] coordinates {(0.6,9.47)(0.607,9.757)(0.6127,9.942)(0.62,10.187)(0.627,10.38)(0.633,10.507)(0.64,10.59)(0.65,10.71)(0.66,10.81)(0.67,10.91)(0.68,11.0)(0.69,11.13)(0.7,11.257)};
\addplot[sR, smooth] coordinates {(0.6,9.335)(0.607,9.57)(0.6133,9.79)(0.62,9.99)(0.626,10.18)(0.633,10.28)(0.64,10.347)(0.65,10.43)(0.66,10.473)(0.665,10.507)(0.672,10.566)(0.68,10.633)(0.686,10.70)(0.693,10.818)(0.7,10.987)};
\addplot[sB, smooth] coordinates {(0.6,9.875)(0.6106,9.96)(0.62,10.043)(0.63,10.144)(0.64,10.229)(0.65,10.313)(0.66,10.448)(0.665,10.515)(0.67,10.633)(0.675,10.75)(0.68,10.868)(0.685,11.0)(0.69,11.113)(0.695,11.24)(0.7,11.33)};
\addplot[sG, smooth] coordinates {(0.6,10.136)(0.62,10.296)(0.64,10.464)(0.65,10.6)(0.66,10.726)(0.67,10.953)(0.68,11.138)(0.69,11.333)(0.7,11.527)};
\addplot[sP, smooth] coordinates {(0.6,9.276)(0.607,9.504)(0.62,9.723)(0.63,9.92)(0.64,10.026)(0.65,10.17)(0.66,10.296)(0.67,10.448)(0.68,10.6)(0.686,10.734)(0.69,10.818)(0.695,10.953)(0.7,11.055)};
\addplot[sO, smooth] coordinates {(0.6,9.934)(0.62,10.195)(0.63,10.347)(0.64,10.464)(0.65,10.582)(0.66,10.75)(0.67,10.936)(0.68,11.071)(0.69,11.206)(0.7,11.341)};
\addplot[sC, smooth] coordinates {(0.6,9.807)(0.607,9.976)(0.62,10.178)(0.63,10.363)(0.64,10.464)(0.65,10.6)(0.66,10.667)(0.67,10.75)(0.68,10.852)(0.69,11.004)(0.7,11.214)};
\LEG
\end{axis}

% panel labels
\begin{scope}[every node/.style={font=\fontsize{28}{32}\selectfont}]
\node at (28pt,-268pt) {(a)};
\node at (28pt,-790pt) {(b)};
\node at (28pt,-1310pt) {(c)};
\node at (370pt,-505pt) {(i)};
\node at (946pt,-497pt) {(ii)};
\node at (370pt,-1030pt) {(i)};
\node at (946pt,-1025pt) {(ii)};
\node at (370pt,-1545pt) {(i)};
\node at (946pt,-1537pt) {(ii)};
\end{scope}
\end{tikzpicture}
\end{document}
